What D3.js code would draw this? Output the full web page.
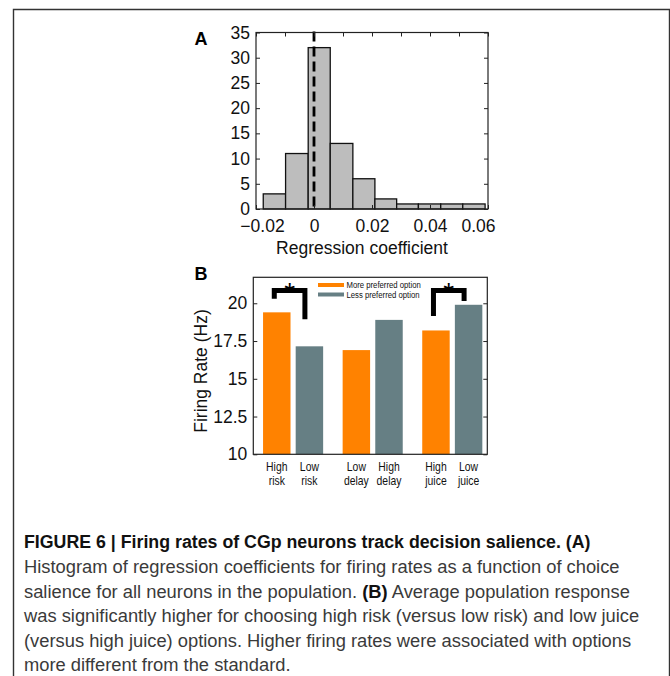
<!DOCTYPE html>
<html><head><meta charset="utf-8">
<script src="https://cdn.jsdelivr.net/npm/d3@7"></script>
<style>body{margin:0;background:#fff}svg{display:block}</style>
</head><body>
<script>
// ---- Panel A data ----
const binEdges = [-0.0175, -0.0098, -0.0020, 0.0056, 0.0134, 0.0210, 0.0285, 0.0360, 0.0437, 0.0513, 0.0590];
const binCounts = [3, 11, 32, 13, 6, 2, 1, 1, 1, 1];
const histXTicks = [-0.02, 0, 0.02, 0.04, 0.06];
const histXMinorTicks = [-0.01, 0.01, 0.03, 0.05];
const histYTicks = [0, 5, 10, 15, 20, 25, 30, 35];

// ---- Panel B data ----
const groups = ["risk", "delay", "juice"];
const barLabels = [["High","risk"],["Low","risk"],["Low","delay"],["High","delay"],["High","juice"],["Low","juice"]];
const moreValues = [19.4, 16.9, 18.2];
const lessValues = [17.15, 18.9, 19.9];
const moreLabelIdx = [0, 2, 4];
const lessLabelIdx = [1, 3, 5];
const rateYTicks = [10, 12.5, 15, 17.5, 20];
const rateYTickLabels = ["10", "12.5", "15", "17.5", "20"];
const legendLabels = ["More preferred option", "Less preferred option"];
// significance brackets: group index, top level, left leg end, right leg end (Hz)
const brackets = [
  {g: 0, top: 20.85, left: 20.3, right: 18.95},
  {g: 2, top: 20.85, left: 19.15, right: 20.15}
];

const captionTitle = "FIGURE 6 | Firing rates of CGp neurons track decision salience. (A)";
const captionLines = [
  [["Histogram of regression coefficients for firing rates as a function of choice", false]],
  [["salience for all neurons in the population. ", false], ["(B)", true], [" Average population response", false]],
  [["was significantly higher for choosing high risk (versus low risk) and low juice", false]],
  [["(versus high juice) options. Higher firing rates were associated with options", false]],
  [["more different from the standard.", false]]
];

const ORANGE = "#ff8200", GRAY = "#667f84";
const FONT = "'Liberation Sans', Arial, Helvetica, sans-serif";

const svg = d3.select("body").append("svg").attr("width", 670).attr("height", 676);

// frame
svg.append("path").attr("d", "M13.5,676 V9.5 H669.5 V676")
  .attr("fill", "none").attr("stroke", "#333").attr("stroke-width", 1.4);

// ================= Panel A =================
const ax = {l: 256, r: 488, t: 32.5, b: 209};
const xA = d3.scaleLinear().domain([-0.02, 0.06]).range([ax.l, ax.r]);
const yA = d3.scaleLinear().domain([0, 35]).range([ax.b, ax.t]);
const gA = svg.append("g");

gA.selectAll("rect.bin").data(binCounts).join("rect")
  .attr("x", (d, i) => xA(binEdges[i]))
  .attr("width", (d, i) => xA(binEdges[i + 1]) - xA(binEdges[i]))
  .attr("y", d => yA(d))
  .attr("height", d => yA(0) - yA(d))
  .attr("fill", "#bdbdbd").attr("stroke", "#111").attr("stroke-width", 1.3);

gA.append("line").attr("x1", xA(0)).attr("x2", xA(0)).attr("y1", ax.t - 1).attr("y2", ax.b)
  .attr("stroke", "#000").attr("stroke-width", 2.8).attr("stroke-dasharray", "10,5");

gA.append("rect").attr("x", ax.l).attr("y", ax.t).attr("width", ax.r - ax.l).attr("height", ax.b - ax.t)
  .attr("fill", "none").attr("stroke", "#222").attr("stroke-width", 1.2);

const axA_bottom = d3.axisBottom(xA).tickValues(histXTicks).tickSizeInner(-4).tickSizeOuter(0)
  .tickPadding(11).tickFormat(d => d === 0 ? "0" : d3.format(".2f")(d).replace("-", "\u2212"));
const gxA = gA.append("g").attr("transform", `translate(0,${ax.b})`).call(axA_bottom);
gA.append("g").attr("transform", `translate(0,${ax.t})`)
  .call(d3.axisTop(xA).tickValues(histXTicks.concat(histXMinorTicks)).tickSizeInner(-4).tickSizeOuter(0).tickFormat(""));
gA.append("g").attr("transform", `translate(${ax.l},0)`)
  .call(d3.axisLeft(yA).tickValues(histYTicks).tickSizeInner(-4).tickSizeOuter(0).tickPadding(6));
gA.append("g").attr("transform", `translate(${ax.r},0)`)
  .call(d3.axisRight(yA).tickValues(histYTicks).tickSizeInner(-4).tickSizeOuter(0).tickFormat(""));
gA.selectAll(".domain").remove();
gA.selectAll(".tick line").attr("stroke", "#222");
gA.selectAll(".tick text").attr("font-family", FONT).attr("font-size", 17.5).attr("fill", "#111");
gxA.selectAll(".tick text").filter(d => d === 0.06).attr("dx", -10);
gxA.selectAll(".tick text").filter(d => d === -0.02).attr("dx", 6);

gA.append("text").attr("x", 362).attr("y", 254).attr("text-anchor", "middle")
  .attr("font-family", FONT).attr("font-size", 17.5).attr("fill", "#111").text("Regression coefficient");
svg.append("text").attr("x", 201).attr("y", 45).attr("text-anchor", "middle")
  .attr("font-family", FONT).attr("font-weight", "bold").attr("font-size", 18).text("A");

// ================= Panel B =================
const bx = {l: 253.3, r: 487.3, t: 277.3, b: 454.3};
const xB = d3.scaleLinear().domain([0.5, 3.44]).range([bx.l, bx.r]);
const yB = d3.scaleLinear().domain([10, 21.72]).range([bx.b, bx.t]);
const gB = svg.append("g");
const off = 0.205, bw = 0.345;

const barData = [];
groups.forEach((g, i) => {
  barData.push({pos: i + 1 - off, v: moreValues[i], c: ORANGE, lab: barLabels[moreLabelIdx[i]]});
  barData.push({pos: i + 1 + off, v: lessValues[i], c: GRAY, lab: barLabels[lessLabelIdx[i]]});
});

gB.selectAll("rect.bar").data(barData).join("rect")
  .attr("x", d => xB(d.pos - bw / 2)).attr("width", d => xB(d.pos + bw / 2) - xB(d.pos - bw / 2))
  .attr("y", d => yB(d.v)).attr("height", d => yB(10) - yB(d.v))
  .attr("fill", d => d.c);

gB.append("rect").attr("x", bx.l).attr("y", bx.t).attr("width", bx.r - bx.l).attr("height", bx.b - bx.t)
  .attr("fill", "none").attr("stroke", "#222").attr("stroke-width", 1.2);

gB.append("g").attr("transform", `translate(${bx.l},0)`)
  .call(d3.axisLeft(yB).tickValues(rateYTicks).tickSizeInner(-4).tickSizeOuter(0).tickPadding(6)
    .tickFormat((d, i) => rateYTickLabels[i]));
gB.append("g").attr("transform", `translate(${bx.r},0)`)
  .call(d3.axisRight(yB).tickValues(rateYTicks).tickSizeInner(-4).tickSizeOuter(0).tickFormat(""));
gB.selectAll(".domain").remove();
gB.selectAll(".tick line").attr("stroke", "#222");
gB.selectAll(".tick text").attr("font-family", FONT).attr("font-size", 17.5).attr("fill", "#111");

// condensed text helper: horizontally scale a text around its anchor point
function condensedText(parent, x, y, str, size, factor, opts = {}) {
  const g = parent.append("g").attr("transform", `translate(${x},${y}) scale(${factor},1)`);
  const t = g.append("text").attr("x", 0).attr("y", 0).attr("font-family", FONT).attr("font-size", size)
    .attr("fill", opts.fill || "#111").attr("text-anchor", opts.anchor || "start");
  if (opts.weight) t.attr("font-weight", opts.weight);
  if (str !== null) t.text(str);
  return {g, t};
}

// x labels
barData.forEach(d => {
  condensedText(gB, xB(d.pos), 471, d.lab[0], 13, 0.8, {anchor: "middle"});
  condensedText(gB, xB(d.pos), 485, d.lab[1], 13, 0.8, {anchor: "middle"});
});

// legend
legendLabels.forEach((txt, i) => {
  const y = 285 + i * 9.5;
  gB.append("line").attr("x1", 318).attr("x2", 344).attr("y1", y).attr("y2", y)
    .attr("stroke", i === 0 ? ORANGE : GRAY).attr("stroke-width", 4);
  condensedText(gB, 346.5, y + 3, txt, 8.8, 0.88);
});

// significance brackets
brackets.forEach(b => {
  const xl1 = xB(b.g + 1 - off) - 2.5, xr1 = xB(b.g + 1 + off) - 4.5;
  gB.append("path")
    .attr("d", `M${xl1},${yB(b.left)} V${yB(b.top)} H${xr1} V${yB(b.right)}`)
    .attr("fill", "none").attr("stroke", "#000").attr("stroke-width", 5).attr("stroke-linejoin", "miter");
  gB.append("text").attr("x", (xl1 + xr1) / 2).attr("y", yB(b.top) + 12).attr("text-anchor", "middle")
    .attr("font-family", FONT).attr("font-size", 28).attr("fill", "#000").text("*");
});

gB.append("text").attr("transform", "translate(207,371) rotate(-90)").attr("text-anchor", "middle")
  .attr("font-family", FONT).attr("font-size", 17.5).attr("fill", "#111").text("Firing Rate (Hz)");
svg.append("text").attr("x", 201).attr("y", 280).attr("text-anchor", "middle")
  .attr("font-family", FONT).attr("font-weight", "bold").attr("font-size", 18).text("B");

// ================= Caption =================
const capSize = 18.5;
const title = condensedText(svg, 24, 548, captionTitle, capSize, 1, {weight: "bold", fill: "#111"});
const tw = title.t.node().getComputedTextLength();
title.g.attr("transform", `translate(24,548) scale(${567 / tw},1)`);

const bodies = captionLines.map((line, i) => {
  const c = condensedText(svg, 24, 573 + i * 24.5, null, capSize, 1, {fill: "#3a3a3a"});
  line.forEach(([s, bold]) => c.t.append("tspan").attr("font-weight", bold ? "bold" : null)
    .attr("fill", bold ? "#111" : null).text(s));
  return c;
});
const w1 = bodies[0].t.node().getComputedTextLength();
const bodyFactor = 596 / w1;
bodies.forEach((c, i) => c.g.attr("transform", `translate(24,${573 + i * 24.5}) scale(${bodyFactor},1)`));
</script>
</body></html>
